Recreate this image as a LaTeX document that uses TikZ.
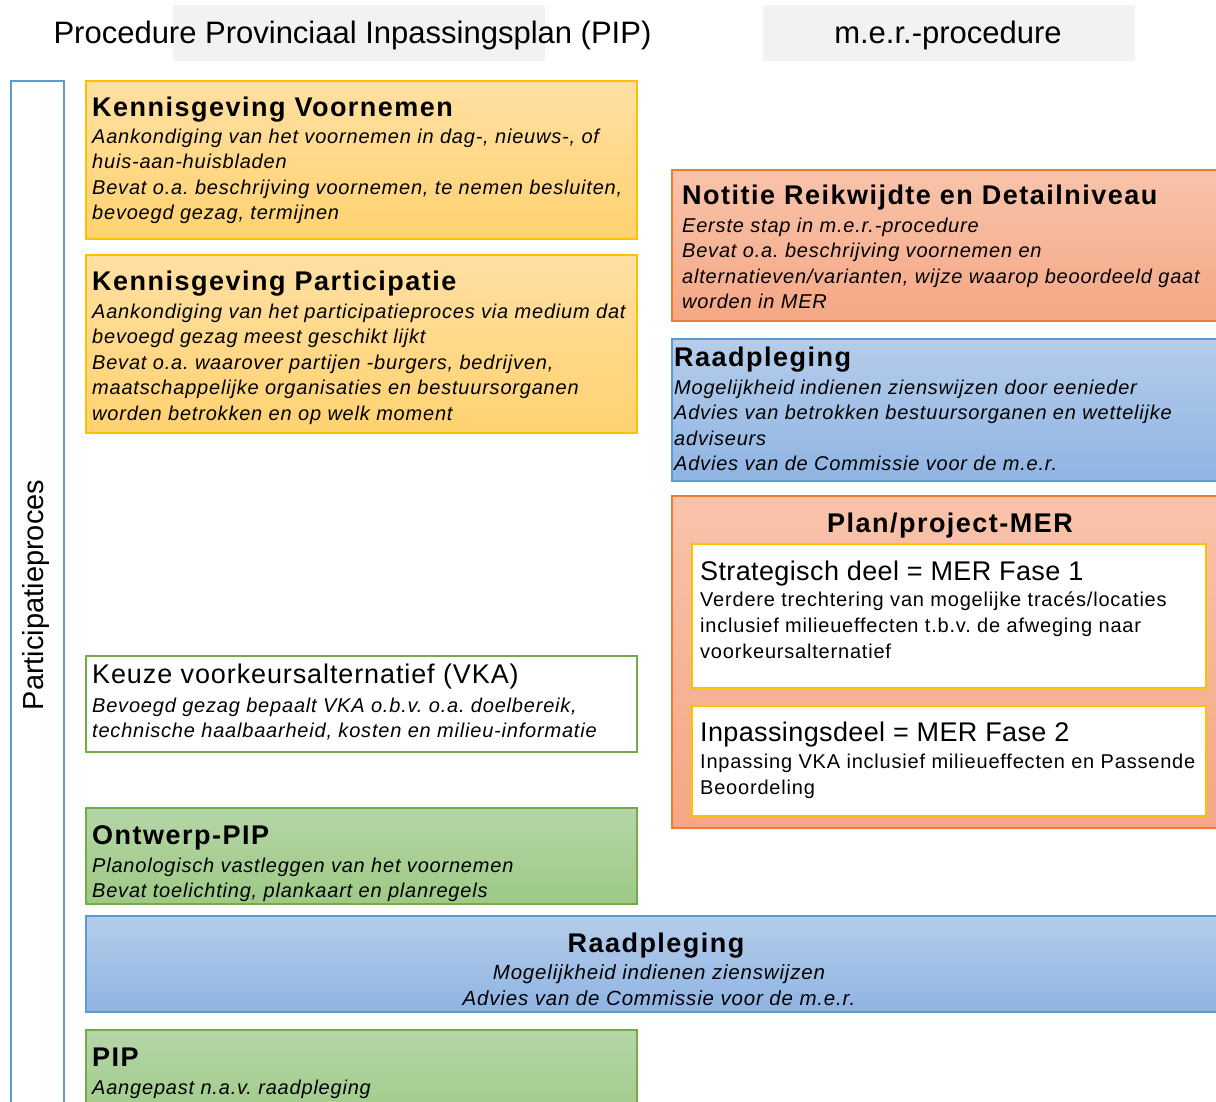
\documentclass[tikz,border=0pt]{standalone}
\usepackage{fontspec}
\setmainfont{Liberation Sans}
\newfontfamily\bodyfont[LetterSpace=4]{Liberation Sans}
\newfontfamily\titlefont[LetterSpace=5.5]{Liberation Sans}
\newfontfamily\regtitlefont[LetterSpace=3.3]{Liberation Sans}
\newfontfamily\regtitlefontb[LetterSpace=1.4]{Liberation Sans}
\frenchspacing
\definecolor{orgTop}{HTML}{FFE0A3}
\definecolor{orgBot}{HTML}{FFD270}
\definecolor{orgLine}{HTML}{FFC000}
\definecolor{salTop}{HTML}{F8C3AB}
\definecolor{salBot}{HTML}{F4A784}
\definecolor{salLine}{HTML}{ED7D31}
\definecolor{bluTop}{HTML}{B5CDEA}
\definecolor{bluBot}{HTML}{8FB4E3}
\definecolor{bluLine}{HTML}{5B9BD5}
\definecolor{grnTop}{HTML}{B5D6A7}
\definecolor{grnBot}{HTML}{9DC985}
\definecolor{grnLine}{HTML}{70AD47}
\definecolor{hdrGray}{HTML}{F2F2F2}
\newcommand\bodylines[2]{\parbox[t]{#1}{\raggedright\frenchspacing #2}}
\tikzset{
  box/.style={line width=2pt, inner sep=0pt, outer sep=0pt, anchor=north west},
  orangebox/.style={box, draw=orgLine, top color=orgTop, bottom color=orgBot},
  salmonbox/.style={box, draw=salLine, top color=salTop, bottom color=salBot},
  bluebox/.style={box, draw=bluLine, top color=bluTop, bottom color=bluBot},
  greenbox/.style={box, draw=grnLine, top color=grnTop, bottom color=grnBot},
  whitegreen/.style={box, draw=grnLine, fill=white},
  whiteorange/.style={box, draw=orgLine, fill=white},
  hdrbox/.style={box, fill=hdrGray, draw=none},
  hdrtext/.style={anchor=base, inner sep=0pt, font=\fontsize{31}{36}\selectfont},
  ttl/.style={anchor=base west, inner sep=0pt, font=\titlefont\fontsize{27}{32}\selectfont\bfseries},
  ttlc/.style={anchor=base, inner sep=0pt, font=\titlefont\fontsize{27}{32}\selectfont\bfseries},
  ttlreg/.style={anchor=base west, inner sep=0pt, font=\regtitlefont\fontsize{27}{32}\selectfont},
  ttlregb/.style={anchor=base west, inner sep=0pt, font=\regtitlefontb\fontsize{27}{32}\selectfont},
  bodyit/.style={anchor=base west, inner sep=0pt, font=\bodyfont\fontsize{20}{25.6}\selectfont\itshape\frenchspacing},
  bodyitc/.style={anchor=base, inner sep=0pt, font=\bodyfont\fontsize{20.5}{26}\selectfont\itshape\frenchspacing},
  bodyreg/.style={anchor=base west, inner sep=0pt, font=\bodyfont\fontsize{20}{26}\selectfont\frenchspacing},
}
\begin{document}
\begin{tikzpicture}[x=1pt, y=-1pt]
\useasboundingbox (0,0) rectangle (1216,1101);
% headers
\node[hdrbox, minimum width=372pt, minimum height=56pt] (h1) at (173,5) {};
\node[hdrbox, minimum width=372pt, minimum height=56pt] (h2) at (763,5) {};
\node[hdrtext] (h1t) at (352.5,43.5) {Procedure Provinciaal Inpassingsplan (PIP)};
\node[hdrtext] (h2t) at (948,43.5) {m.e.r.-procedure};
% left bar
\node[box, draw=bluLine, minimum width=53pt, minimum height=1060pt] (bar) at (11,81) {};
\node[rotate=90, inner sep=0pt, font=\fontsize{29}{32}\selectfont] (bart) at (36,595) {Participatieproces};
% Kennisgeving Voornemen
\node[orangebox, minimum width=551pt, minimum height=158pt] (kv) at (86,81) {};
\node[ttl] (kvt) at (92,116) {Kennisgeving Voornemen};
\node[bodyit] (kvb) at (92,143) {\bodylines{600pt}{Aankondiging van het voornemen in dag-, nieuws-, of\\huis-aan-huisbladen\\Bevat o.a. beschrijving voornemen, te nemen besluiten,\\bevoegd gezag, termijnen}};
% Kennisgeving Participatie
\node[orangebox, minimum width=551pt, minimum height=178pt] (kp) at (86,255) {};
\node[ttl] (kpt) at (92,290) {Kennisgeving Participatie};
\node[bodyit] (kpb) at (92,318) {\bodylines{600pt}{Aankondiging van het participatieproces via medium dat\\bevoegd gezag meest geschikt lijkt\\Bevat o.a. waarover partijen -burgers, bedrijven,\\maatschappelijke organisaties en bestuursorganen\\worden betrokken en op welk moment}};
% Notitie Reikwijdte
\node[salmonbox, minimum width=560pt, minimum height=151pt] (nrd) at (672,170) {};
\node[ttl] (nrdt) at (682,204) {Notitie Reikwijdte en Detailniveau};
\node[bodyit] (nrdb) at (682,232) {\bodylines{600pt}{Eerste stap in m.e.r.-procedure\\Bevat o.a. beschrijving voornemen en\\alternatieven/varianten, wijze waarop beoordeeld gaat\\worden in MER}};
% Raadpleging (right)
\node[bluebox, minimum width=560pt, minimum height=142pt] (r1) at (672,339) {};
\node[ttl] (r1t) at (674,366) {Raadpleging};
\node[bodyit] (r1b) at (674,394) {\bodylines{600pt}{Mogelijkheid indienen zienswijzen door eenieder\\Advies van betrokken bestuursorganen en wettelijke\\adviseurs\\Advies van de Commissie voor de m.e.r.}};
% Plan/project-MER
\node[salmonbox, minimum width=560pt, minimum height=332pt] (pm) at (672,496) {};
\node[ttlc] (pmt) at (950,532) {Plan/project-MER};
\node[whiteorange, minimum width=514pt, minimum height=144pt] (s1) at (692,544) {};
\node[ttlregb] (s1t) at (700,580) {Strategisch deel = MER Fase 1};
\node[bodyreg] (s1b) at (700,606) {\bodylines{520pt}{Verdere trechtering van mogelijke tracés/locaties\\inclusief milieueffecten t.b.v. de afweging naar\\voorkeursalternatief}};
\node[whiteorange, minimum width=514pt, minimum height=110pt] (s2) at (692,706) {};
\node[ttlregb] (s2t) at (700,741) {Inpassingsdeel = MER Fase 2};
\node[bodyreg] (s2b) at (700,768) {\bodylines{520pt}{Inpassing VKA inclusief milieueffecten en Passende\\Beoordeling}};
% Keuze VKA
\node[whitegreen, minimum width=551pt, minimum height=96pt] (vka) at (86,656) {};
\node[ttlreg] (vkat) at (92,683) {Keuze voorkeursalternatief (VKA)};
\node[bodyit] (vkab) at (92,712) {\bodylines{600pt}{Bevoegd gezag bepaalt VKA o.b.v. o.a. doelbereik,\\technische haalbaarheid, kosten en milieu-informatie}};
% Ontwerp-PIP
\node[greenbox, minimum width=551pt, minimum height=96pt] (op) at (86,808) {};
\node[ttl] (opt) at (92,844) {Ontwerp-PIP};
\node[bodyit] (opb) at (92,872) {\bodylines{600pt}{Planologisch vastleggen van het voornemen\\Bevat toelichting, plankaart en planregels}};
% Raadpleging (bottom)
\node[bluebox, minimum width=1140pt, minimum height=96pt] (r2) at (86,916) {};
\node[ttlc] (r2t) at (656,952) {Raadpleging};
\node[bodyitc] (r2b) at (659,979) {\parbox[t]{700pt}{\centering\frenchspacing Mogelijkheid indienen zienswijzen\\Advies van de Commissie voor de m.e.r.}};
% PIP
\node[greenbox, minimum width=551pt, minimum height=100pt] (pip) at (86,1030) {};
\node[ttl] (pipt) at (92,1066) {PIP};
\node[bodyit] (pipb) at (92,1094) {Aangepast n.a.v. raadpleging};
\end{tikzpicture}
\end{document}
